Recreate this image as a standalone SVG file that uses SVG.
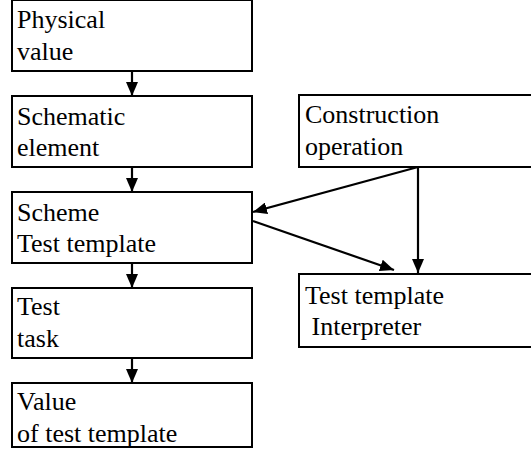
<svg xmlns="http://www.w3.org/2000/svg" width="531" height="461" viewBox="0 0 531 461">
<style>
.box{fill:#fff;stroke:#000;stroke-width:2}
.t{font-family:"Liberation Serif","Times New Roman",serif;font-size:26px;fill:#000}
.c{stroke:#000;stroke-width:2.2;fill:none}
</style>
<defs>
<marker id="ah" viewBox="0 0 14 12" refX="14" refY="6" markerWidth="14" markerHeight="12" markerUnits="userSpaceOnUse" orient="auto">
<path d="M0,0 L14,6 L0,12 z" fill="#000"/>
</marker>
</defs>
<rect width="531" height="461" fill="#fff"/>
<g id="n1"><rect class="box" x="12" y="0" width="240" height="71"/><text class="t" x="17" y="28">Physical</text><text class="t" x="17" y="60">value</text></g>
<g id="n2"><rect class="box" x="12" y="96" width="240" height="71"/><text class="t" x="17" y="125">Schematic</text><text class="t" x="17" y="156">element</text></g>
<g id="n3"><rect class="box" x="12" y="192" width="240" height="71"/><text class="t" x="17" y="221">Scheme</text><text class="t" x="17" y="252">Test template</text></g>
<g id="n4"><rect class="box" x="12" y="288" width="240" height="70"/><text class="t" x="17" y="315">Test</text><text class="t" x="17" y="347">task</text></g>
<g id="n5"><rect class="box" x="12" y="383" width="240" height="64"/><text class="t" x="17" y="410">Value</text><text class="t" x="17" y="442">of test template</text></g>
<g id="n6"><rect class="box" x="299" y="95" width="300" height="72"/><text class="t" x="305" y="123">Construction</text><text class="t" x="305" y="155">operation</text></g>
<g id="n7"><rect class="box" x="299" y="274" width="300" height="73"/><text class="t" x="305" y="304">Test template</text><text class="t" x="305" y="335" xml:space="preserve"> Interpreter</text></g>
<g id="connectors">
<line class="c" x1="132" y1="71" x2="132" y2="96" marker-end="url(#ah)"/>
<line class="c" x1="132" y1="167" x2="132" y2="192" marker-end="url(#ah)"/>
<line class="c" x1="132" y1="263" x2="132" y2="288" marker-end="url(#ah)"/>
<line class="c" x1="132" y1="358" x2="132" y2="383" marker-end="url(#ah)"/>
<line class="c" x1="418" y1="167" x2="253" y2="212" marker-end="url(#ah)"/>
<line class="c" x1="253" y1="221" x2="394" y2="270" marker-end="url(#ah)"/>
<line class="c" x1="418" y1="167" x2="418" y2="273" marker-end="url(#ah)"/>
</g>
</svg>
